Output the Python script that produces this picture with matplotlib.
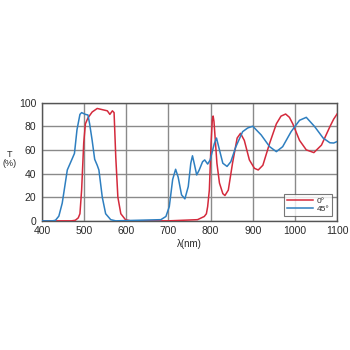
import matplotlib
matplotlib.use('Agg')
import matplotlib.pyplot as plt

plt.rcParams['font.family'] = ['Liberation Sans', 'DejaVu Sans']

# curva 0 grados (roja)
wl_0 = [400, 470, 479, 486, 490, 494, 499, 503, 509, 519, 531, 543, 555, 561, 567, 571,
        575, 580, 587, 598, 610, 700, 769, 785, 790, 793, 797, 799, 801, 804, 806,
        808, 810, 815, 821, 829, 834, 842, 852, 863, 871, 880, 892, 904, 913,
        924, 940, 956, 967, 978, 987, 995, 1011, 1027, 1045, 1063, 1083, 1092, 1100]
t_0 = [0, 0, 0.5, 2.5, 6, 26, 66, 82, 87, 92, 95, 94, 93, 90, 93, 91.5,
       54, 20, 6, 1, 0, 0, 1, 3.7, 6, 12, 26, 45, 65, 85, 88.6,
       84, 74, 48.7, 32, 23, 21.4, 26, 48.7, 70, 74, 68, 51.5, 44.4, 43,
       47, 65.5, 82, 88.5, 90.3, 87.5, 82, 68, 60, 57.7, 64, 79.6, 86, 90.3]

# curva 45 grados (azul)
wl_45 = [400, 425, 432, 440, 448, 460, 471, 477, 483, 490, 494, 503, 509, 513, 519,
         525, 531, 535, 543, 551, 563, 575, 682, 694, 702, 710, 717, 723, 731,
         739, 747, 753, 757, 761, 767, 773, 781, 786, 793, 799, 805, 809, 814,
         821, 829, 839, 848, 860, 876, 888, 900, 920, 940, 956, 971, 991, 1011,
         1027, 1047, 1067, 1083, 1092, 1100]
t_45 = [0, 0, 0.5, 4, 15, 43, 52, 57, 77, 90, 91.5, 90, 89.5, 82, 68,
        52, 47, 43, 20, 6, 1, 0, 1, 3.7, 12, 35, 43.6, 37, 22,
        18.6, 29, 48.7, 55, 48.7, 38.8, 43, 50, 51.5, 48, 51.5, 60, 65.5, 70,
        60, 48.7, 46, 50, 62.7, 75.4, 78.5, 80, 72.6, 62.7, 58.5, 62.7, 75.4, 85,
        87.5, 79.6, 70, 66, 65.8, 67]

x_ticks = [400, 500, 600, 700, 800, 900, 1000, 1100]
y_ticks = [0, 20, 40, 60, 80, 100]

red = '#d42a3c'
blue = '#2e7fc0'
dark = '#2a2a2a'

fig = plt.figure(figsize=(3.5, 3.5), dpi=100)
ax = fig.add_axes([0.12, 0.369, 0.843, 0.338])

ax.plot(wl_0, t_0, color=red, lw=1.1, label='0°', zorder=3)
ax.plot(wl_45, t_45, color=blue, lw=1.1, label='45°', zorder=3)

ax.set_xlim(400, 1100)
ax.set_ylim(0, 100)
ax.set_xticks(x_ticks)
ax.set_yticks(y_ticks)
ax.tick_params(axis='y', length=0, labelsize=7.5, colors=dark, pad=4)
ax.tick_params(axis='x', length=0, labelsize=7.5, colors=dark, pad=4)
ax.grid(True, color='#8a8a8a', lw=1)
for s in ax.spines.values():
    s.set_color('#555555')
    s.set_linewidth(1)

ax.set_xlabel('λ(nm)', fontsize=7, color=dark, labelpad=2)
fig.text(0.028, 0.545, 'T\n(%)', fontsize=6.5, color=dark, ha='center', va='center',
         linespacing=1.0)

leg = ax.legend(loc='lower right', fontsize=6, frameon=True, fancybox=False,
                handlelength=3.2, borderpad=0.3, labelspacing=0.1,
                handletextpad=0.4, borderaxespad=0.6)
leg.get_frame().set_edgecolor('#555555')
leg.get_frame().set_linewidth(0.8)
for t in leg.get_texts():
    t.set_color(dark)

fig.savefig('out.png', dpi=100)
